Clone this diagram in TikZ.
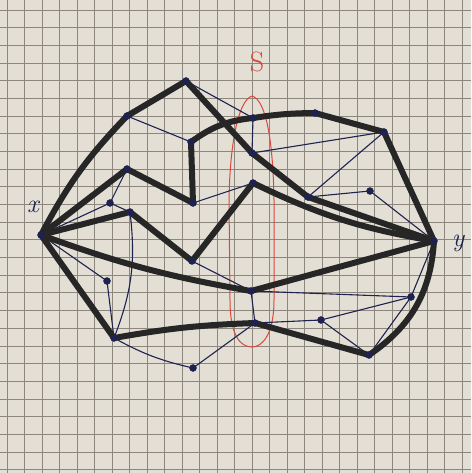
\documentclass[tikz,border=0pt]{standalone}
\usepackage{fontspec}
\definecolor{paper}{RGB}{228,223,212}
\definecolor{gridc}{RGB}{140,134,124}
\definecolor{ink}{RGB}{30,34,80}
\definecolor{inkblack}{RGB}{38,38,38}
\definecolor{redpen}{RGB}{222,70,60}
\begin{document}
\begin{tikzpicture}[x=1pt,y=-1pt,
  thickedge/.style={line width=6pt, draw=inkblack, line cap=round, line join=round},
  thinedge/.style={line width=1.1pt, draw=ink},
  vtx/.style={circle, fill=ink, draw=ink, inner sep=0pt, minimum size=7pt},
  gridline/.style={line width=0.8pt, draw=gridc},
  lbl/.style={text=ink, font=\fontsize{26}{26}\selectfont\itshape}]
\fill[paper] (0,0) rectangle (471,473);
\useasboundingbox (0,0) rectangle (471,473);
\foreach \k in {0,...,26} {
  \draw[gridline] ({7.3+17.5*\k},0) -- ({7.3+17.5*\k},473);
  \draw[gridline] (0,{10+17.68*\k}) -- (471,{10+17.68*\k});
}
% red set S
\draw[redpen, line width=1pt] (252,96) .. controls (266,100) and (273,140) .. (274,200)
  -- (274,300) .. controls (274,335) and (262,347) .. (252,347)
  .. controls (240,347) and (230,335) .. (230,300) -- (229,200)
  .. controls (230,140) and (239,100) .. (252,96);
\node[text=redpen, font=\fontsize{28}{28}\selectfont] (Slabel) at (257,62) {S};
% vertices
\coordinate (x) at (41,235);
\coordinate (y) at (434,241);
\coordinate (A1) at (127,116);
\coordinate (A2) at (186,81);
\coordinate (B) at (252,153);
\coordinate (C) at (308,197);
\coordinate (D) at (127,169);
\coordinate (E) at (193,203);
\coordinate (F) at (191,142);
\coordinate (G) at (253,118);
\coordinate (H) at (315,113);
\coordinate (I) at (384,132);
\coordinate (T) at (370,191);
\coordinate (K) at (110,203);
\coordinate (L) at (130,212);
\coordinate (M) at (192,261);
\coordinate (N) at (253,183);
\coordinate (P) at (251,291);
\coordinate (Q) at (114,338);
\coordinate (R) at (255,323);
\coordinate (S) at (369,355);
\coordinate (U) at (107,281);
\coordinate (V) at (193,368);
\coordinate (W) at (411,297);
\coordinate (X) at (321,320);
% thin edges
\draw[thinedge] (x) -- (K) -- (D);
\draw[thinedge] (K) -- (L);
\draw[thinedge] (A1) -- (F);
\draw[thinedge] (A2) -- (G) -- (B) -- (I) -- (C) -- (T) -- (y);
\draw[thinedge] (E) -- (N);
\draw[thinedge] (M) -- (P);
\draw[thinedge] (L) to[bend left=14] (Q);
\draw[thinedge] (x) -- (U) -- (Q);
\draw[thinedge] (Q) to[bend right=8] (V);
\draw[thinedge] (V) -- (R);
\draw[thinedge] (P) -- (R);
\draw[thinedge] (P) -- (W) -- (y);
\draw[thinedge] (W) -- (S);
\draw[thinedge] (R) -- (X) -- (W);
\draw[thinedge] (X) -- (S);
% thick edges
\draw[thickedge] (x) to[bend left=8] (A1) -- (A2) -- (B) -- (C) -- (y);
\draw[thickedge] (x) -- (D) -- (E) -- (F) to[bend left=15] (G) to[bend left=4] (H) -- (I) -- (y);
\draw[thickedge] (x) -- (L) -- (M) -- (N) to[bend right=8] (y);
\draw[thickedge] (x) to[bend right=5] (P) -- (y);
\draw[thickedge] (x) -- (Q) to[bend left=4] (R) -- (S) to[bend right=26] (y);
% vertex dots
\foreach \v in {x,y,A1,A2,B,C,D,E,F,G,H,I,T,K,L,M,N,P,Q,R,S,U,V,W,X}
  \node[vtx] (v\v) at (\v) {};
% labels
\node[lbl] (xlabel) at (33,207) {x};
\node[lbl] (ylabel) at (458,243) {y};
\end{tikzpicture}
\end{document}
